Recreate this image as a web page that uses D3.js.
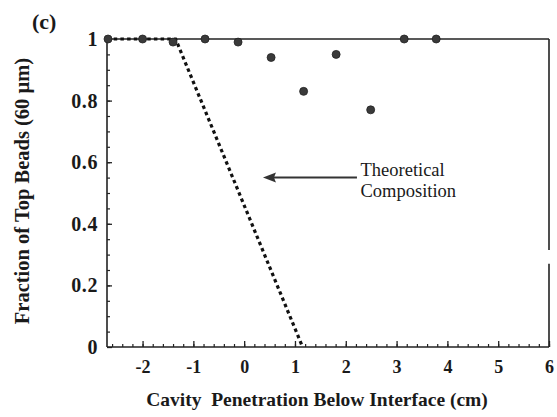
<!DOCTYPE html>
<html>
<head>
<meta charset="utf-8">
<script src="https://cdn.jsdelivr.net/npm/d3@7"></script>
<style>
  html, body { margin: 0; padding: 0; background: #fff; }
  svg { display: block; }
  text { font-family: "Liberation Serif", "Times New Roman", serif; fill: #1a1a1a; }
</style>
</head>
<body>
<script>
// Measured fraction of top beads versus cavity penetration
const measuredX = [-2.68, -2.0, -1.4, -0.77, -0.12, 0.53, 1.17, 1.81, 2.49, 3.15, 3.78];
const measuredY = [1.0, 1.0, 0.99, 1.0, 0.99, 0.94, 0.83, 0.95, 0.77, 1.0, 1.0];

// Theoretical composition curve
const theoryX = [-2.7, -1.35, 1.15];
const theoryY = [1.0, 1.0, 0.0];

// Axis ticks
const xTickValues = [-2, -1, 0, 1, 2, 3, 4, 5, 6];
const yTickValues = [0, 0.2, 0.4, 0.6, 0.8, 1];

const W = 557, H = 417;
const plotLeft = 107, plotRight = 549, plotTop = 39, plotBottom = 347;

const svg = d3.select("body").append("svg").attr("width", W).attr("height", H);

const x = d3.scaleLinear().domain([-2.7, 6]).range([plotLeft, plotRight]);
const y = d3.scaleLinear().domain([0, 1]).range([plotBottom, plotTop]);

const ink = "#222";

// minor ticks
const xMinor = d3.range(-2.6, 6.001, 0.2).map(v => +v.toFixed(2));
const yMinor = d3.range(0.05, 1.0, 0.05).map(v => +v.toFixed(2));

svg.append("g")
  .attr("transform", `translate(0,${plotBottom})`)
  .call(d3.axisBottom(x).tickValues(xMinor).tickSize(-3).tickFormat(""))
  .call(g => g.select(".domain").remove())
  .call(g => g.selectAll("line").attr("stroke", ink).attr("stroke-width", 1.2));

svg.append("g")
  .attr("transform", `translate(${plotLeft},0)`)
  .call(d3.axisLeft(y).tickValues(yMinor).tickSize(-3).tickFormat(""))
  .call(g => g.select(".domain").remove())
  .call(g => g.selectAll("line").attr("stroke", ink).attr("stroke-width", 1.2));

// major x axis
const xAxis = svg.append("g")
  .attr("transform", `translate(0,${plotBottom})`)
  .call(d3.axisBottom(x).tickValues(xTickValues).tickSize(-6).tickPadding(13)
        .tickFormat(d => String(d)))
  .call(g => g.select(".domain").remove());
xAxis.selectAll("line").attr("stroke", ink).attr("stroke-width", 1.3);
xAxis.selectAll("text").attr("font-size", 18).attr("font-weight", "bold");

// major y axis
const yAxis = svg.append("g")
  .attr("transform", `translate(${plotLeft},0)`)
  .call(d3.axisLeft(y).tickValues(yTickValues).tickSize(-5).tickPadding(9)
        .tickFormat(d => d === 0 || d === 1 ? String(d) : d3.format(".1f")(d)))
  .call(g => g.select(".domain").remove());
yAxis.selectAll("line").attr("stroke", ink).attr("stroke-width", 1.3);
yAxis.selectAll("text").attr("font-size", 20).attr("font-weight", "bold")
  .attr("letter-spacing", 0.6);

// frame: left, bottom, top, right (right side broken by a small gap)
const frame = svg.append("g").attr("fill", "none").attr("stroke", ink).attr("stroke-width", 1.6);
frame.append("line").attr("x1", x(-2.7)).attr("x2", x(-2.7)).attr("y1", y(0)).attr("y2", y(1));
frame.append("line").attr("x1", x(-2.7)).attr("x2", x(6)).attr("y1", y(0)).attr("y2", y(0));
frame.append("line").attr("x1", x(-2.7)).attr("x2", x(6)).attr("y1", y(1)).attr("y2", y(1));
frame.append("line").attr("x1", x(6)).attr("x2", x(6)).attr("y1", y(1)).attr("y2", y(0.315));
frame.append("line").attr("x1", x(6)).attr("x2", x(6)).attr("y1", y(0.27)).attr("y2", y(0));

// theoretical composition, dashed
const line = d3.line().x(d => x(d[0])).y(d => y(d[1]));
svg.append("path")
  .datum(d3.zip(theoryX, theoryY))
  .attr("d", line)
  .attr("fill", "none")
  .attr("stroke", "#111")
  .attr("stroke-width", 3.2)
  .attr("stroke-dasharray", "3.5,3.2");

// measured points
svg.append("g").selectAll("circle")
  .data(d3.zip(measuredX, measuredY))
  .join("circle")
  .attr("cx", d => x(d[0]))
  .attr("cy", d => y(d[1]))
  .attr("r", 4)
  .attr("fill", "#3a3a3a")
  .attr("stroke", "#222")
  .attr("stroke-width", 0.8);

// annotation arrow
const arrowY = 0.55;
const ax0 = 2.22, ax1 = 0.37;
svg.append("line")
  .attr("x1", x(ax0)).attr("x2", x(ax1) + 9)
  .attr("y1", y(arrowY)).attr("y2", y(arrowY))
  .attr("stroke", "#333").attr("stroke-width", 2);
svg.append("path")
  .attr("d", `M${x(ax1)},${y(arrowY)} l13,-5 l-2,5 l2,5 z`)
  .attr("fill", "#333");

const noteX = x(2.29);
const note = svg.append("text")
  .attr("x", noteX).attr("y", y(arrowY) - 2)
  .attr("font-size", 18.5);
note.append("tspan").text("Theoretical");
note.append("tspan").attr("x", noteX).attr("dy", 21).text("Composition");

// titles
svg.append("text")
  .attr("x", 32).attr("y", 29)
  .attr("font-size", 22).attr("font-weight", "bold")
  .text("(c)");

svg.append("text")
  .attr("x", 317).attr("y", 406)
  .attr("text-anchor", "middle")
  .attr("font-size", 19.5).attr("font-weight", "bold")
  .style("white-space", "pre")
  .text("Cavity  Penetration Below Interface (cm)");

svg.append("text")
  .attr("transform", `translate(29,191) rotate(-90)`)
  .attr("text-anchor", "middle")
  .attr("font-size", 20.5).attr("font-weight", "bold")
  .text("Fraction of Top Beads (60 µm)");
</script>
</body>
</html>
